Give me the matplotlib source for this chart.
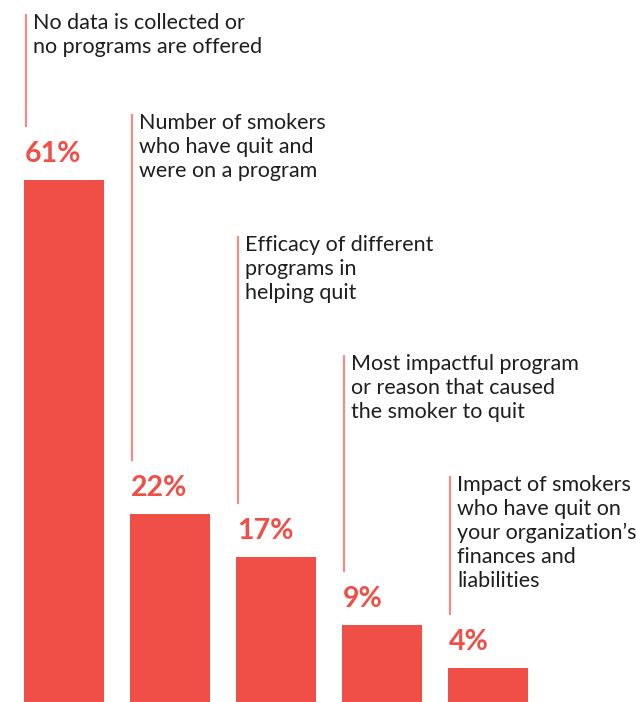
import matplotlib
matplotlib.use("Agg")
import matplotlib.pyplot as plt

# data
categories = [
    "No data is collected or\nno programs are offered",
    "Number of smokers\nwho have quit and\nwere on a program",
    "Efficacy of different\nprograms in\nhelping quit",
    "Most impactful program\nor reason that caused\nthe smoker to quit",
    "Impact of smokers\nwho have quit on\nyour organization\u2019s\nfinances and\nliabilities",
]
values = [61, 22, 17, 9, 4]

# top of each label block, pixels from the top of the figure (layout only)
label_tops = [14, 114, 236, 355, 476]

red = "#ef4f47"
line_red = "#f38c85"
W, H, DPI = 636, 702, 100

plt.rcParams["font.family"] = ["Lato", "DejaVu Sans"]

fig = plt.figure(figsize=(W / DPI, H / DPI), dpi=DPI)
ax = fig.add_axes([0, 0, 1, 1])

step = 106.0  # pixels between bar centres
x0 = 64.0     # first bar centre in pixels
bw = 80.0 / step
xs = list(range(len(values)))
ax.bar(xs, values, width=bw, color=red, linewidth=0)
ax.set_xlim(-x0 / step, (W - x0) / step)
ax.set_ylim(0, H / (522 / 61))
ax.axis("off")

ppy = H / ax.get_ylim()[1]  # pixels per percent
for i, (v, cat, top) in enumerate(zip(values, categories, label_tops)):
    left = i - bw / 2
    # percentage label
    ax.annotate(f"{v}%", xy=(left, v), xytext=(1, 13), textcoords="offset pixels",
                ha="left", va="bottom", fontsize=20.5, fontweight="bold", color=red)
    # leader line from label block down to the percentage
    y_top = (H - top) / ppy
    y_bot = v + 53 / ppy
    lx = left + 2 / step
    ax.plot([lx, lx], [y_bot, y_top], color=line_red, lw=1.6, solid_capstyle="butt")
    ax.text(lx + 7 / step, y_top + 1 / ppy, cat, ha="left", va="top", fontsize=15.5,
            color="#1e1e1e", linespacing=1.25)

fig.savefig("out.png", dpi=DPI, facecolor="white")
